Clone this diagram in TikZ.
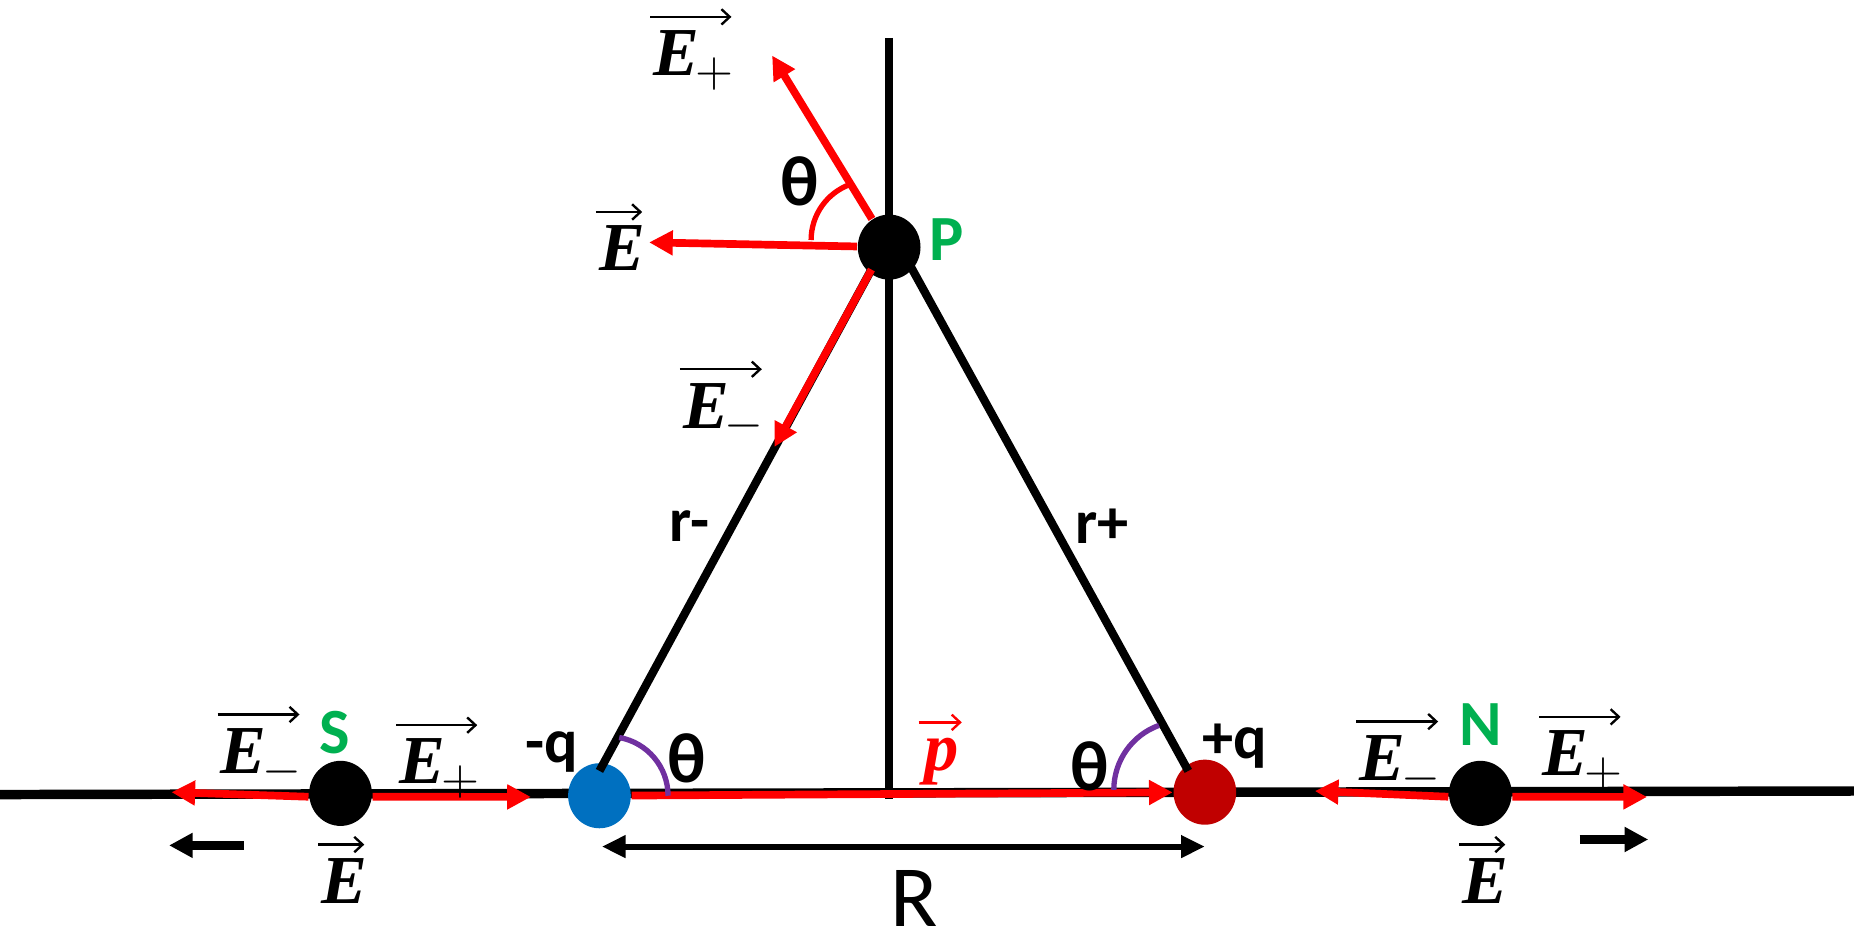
\documentclass[tikz,border=0pt]{standalone}
\usepackage{amsmath}
\usepackage{amssymb}
\usepackage{fontspec}
\usepackage{tikz}
\usetikzlibrary{arrows.meta,shapes.geometric}
\setmainfont{Carlito}
\newfontfamily\vecfont{Liberation Serif}
\definecolor{ptgreen}{HTML}{00B050}
\definecolor{negblue}{HTML}{0070C0}
\definecolor{posred}{HTML}{C00000}
\definecolor{arcpurple}{HTML}{7030A0}
\newcommand{\fieldvec}[1]{{\vecfont\bfseries\itshape E}$#1$}
\tikzset{
  charge/.style={ellipse,minimum width=.53cm,minimum height=.55cm,inner sep=0pt},
  wire/.style={line width=.07cm,black},
  redvec/.style={line width=.065cm,red,-{Triangle[length=.2cm,width=.2cm]}},
  blackvec/.style={line width=.07cm,black,-{Triangle[length=.2cm,width=.2cm]}},
  spanvec/.style={line width=.05cm,black,-{Triangle[length=.2cm,width=.18cm]}},
  vecbar/.style={line width=.02cm,-{Straight Barb[length=.07cm,width=.13cm]}},
  ptlabel/.style={font=\fontsize{15.5}{15.5}\selectfont\bfseries,text=ptgreen},
  bold/.style={font=\fontsize{15}{15}\selectfont\bfseries},
  angletext/.style={font=\fontsize{17}{17}\selectfont\bfseries},
  field/.style={font=\fontsize{16.5}{16.5}\selectfont,anchor=base west}
}
\begin{document}
\begin{tikzpicture}
  [x=.01cm,y=.01cm,every node/.style={inner sep=0pt}]
  \useasboundingbox (0,0) rectangle (1568,791);

  \coordinate (axl) at (0,119);
  \coordinate (axr) at (1568,122);
  \coordinate (axt) at (752,759);
  \coordinate (axb) at (752,115);
  \coordinate (pl) at (737,563);
  \coordinate (pr) at (770,566);
  \coordinate (rm) at (507,139);
  \coordinate (rp) at (1005,139);
  \coordinate (tipp) at (653,744);
  \coordinate (tipe) at (549,586);
  \coordinate (tipm) at (655,413);
  \coordinate (tipsl) at (145,121);
  \coordinate (tipsr) at (449,117);
  \coordinate (tipnl) at (1112,122);
  \coordinate (tipnr) at (1393,117);
  \coordinate (ra) at (509,75);
  \coordinate (rb) at (1019,75);
  \coordinate (rc) at (764,75);
  \coordinate (sa) at (206,76);
  \coordinate (sb) at (143,76);
  \coordinate (na) at (1336,81);
  \coordinate (nb) at (1394,81);

  \draw[line width=.08cm] (axl) -- (axr);
  \draw[line width=.07cm] (axt) -- (axb);

  \node[charge,fill=black] (P) at (752,582) {};
  \node[charge,fill=black] (S) at (288,120) {};
  \node[charge,fill=black] (N) at (1252,120) {};
  \node[charge,fill=negblue] (qm) at (507,118) {};
  \node[charge,fill=posred] (qp) at (1019,121) {};

  \draw[wire] (pl) -- (rm);
  \draw[wire] (pr) -- (rp);

  \foreach \from/\to in {P/tipp,P/tipe,pl/tipm,S.186/tipsl,S.-6/tipsr,N.186/tipnl,N.-6/tipnr,qm/qp}
    \draw[redvec] (\from) -- (\to);
  \draw[blackvec] (sa) -- (sb);
  \draw[blackvec] (na) -- (nb);
  \draw[spanvec] (rc) -- (ra);
  \draw[spanvec] (rc) -- (rb);

  % angle marks
  \draw[line width=.045cm,red] (686,588) arc[start angle=180,end angle=110,radius=50];
  \draw[line width=.045cm,arcpurple] (565,118) arc[start angle=0,end angle=80,radius=50];
  \draw[line width=.045cm,arcpurple] (942,123) arc[start angle=180,end angle=110,radius=58];

  \node[field] (ep) at (552,727) {\fieldvec{\mkern-1mu_{+}}};
  \node[field] (ee) at (506,562) {\fieldvec{}};
  \node[field] (em) at (577,429) {\fieldvec{\mkern-1mu_{-}}};
  \node[field] (esm) at (186,137) {\fieldvec{\mkern-1mu_{-}}};
  \node[field] (esp) at (337,128) {\fieldvec{\mkern-1mu_{+}}};
  \node[field] (es) at (271,27) {\fieldvec{}};
  \node[field] (enm) at (1149,131) {\fieldvec{\mkern-1mu_{-}}};
  \node[field] (enp) at (1304,135) {\fieldvec{\mkern-1mu_{+}}};
  \node[field] (en) at (1236,27) {\fieldvec{}};
  \node[field,text=red] (pv) at (781,139) {{\vecfont\bfseries\itshape p}};

  % arrows over the field letters
  \foreach \n/\dx in {ep/-.04,ee/-.03,em/-.04,esm/-.04,esp/-.04,es/-.03,enm/-.04,enp/-.04,en/-.03}
    \draw[vecbar] ([xshift=-.02cm,yshift=.11cm]\n.north west) -- ([xshift=\dx cm,yshift=.11cm]\n.north east);
  \draw[vecbar,red] ([xshift=-.04cm,yshift=.13cm]pv.north west) -- ([xshift=.02cm,yshift=.13cm]pv.north east);

  \node[ptlabel] (lp) at (801,588) {P};
  \node[ptlabel] (ls) at (283,171) {S};
  \node[ptlabel] (ln) at (1252,178) {N};
  \node[bold] (lrm) at (583,346) {r-};
  \node[bold] (lrp) at (932,346) {r+};
  \node[bold] (lqm) at (467,155) {-q};
  \node[bold] (lqp) at (1044,160) {+q};
  \node[angletext] (t1) at (676,638) {θ};
  \node[angletext] (t2) at (581,150) {θ};
  \node[angletext] (t3) at (922,143) {θ};
  \node[font=\fontsize{21}{21}\selectfont] (lr) at (773,31) {R};
\end{tikzpicture}
\end{document}
